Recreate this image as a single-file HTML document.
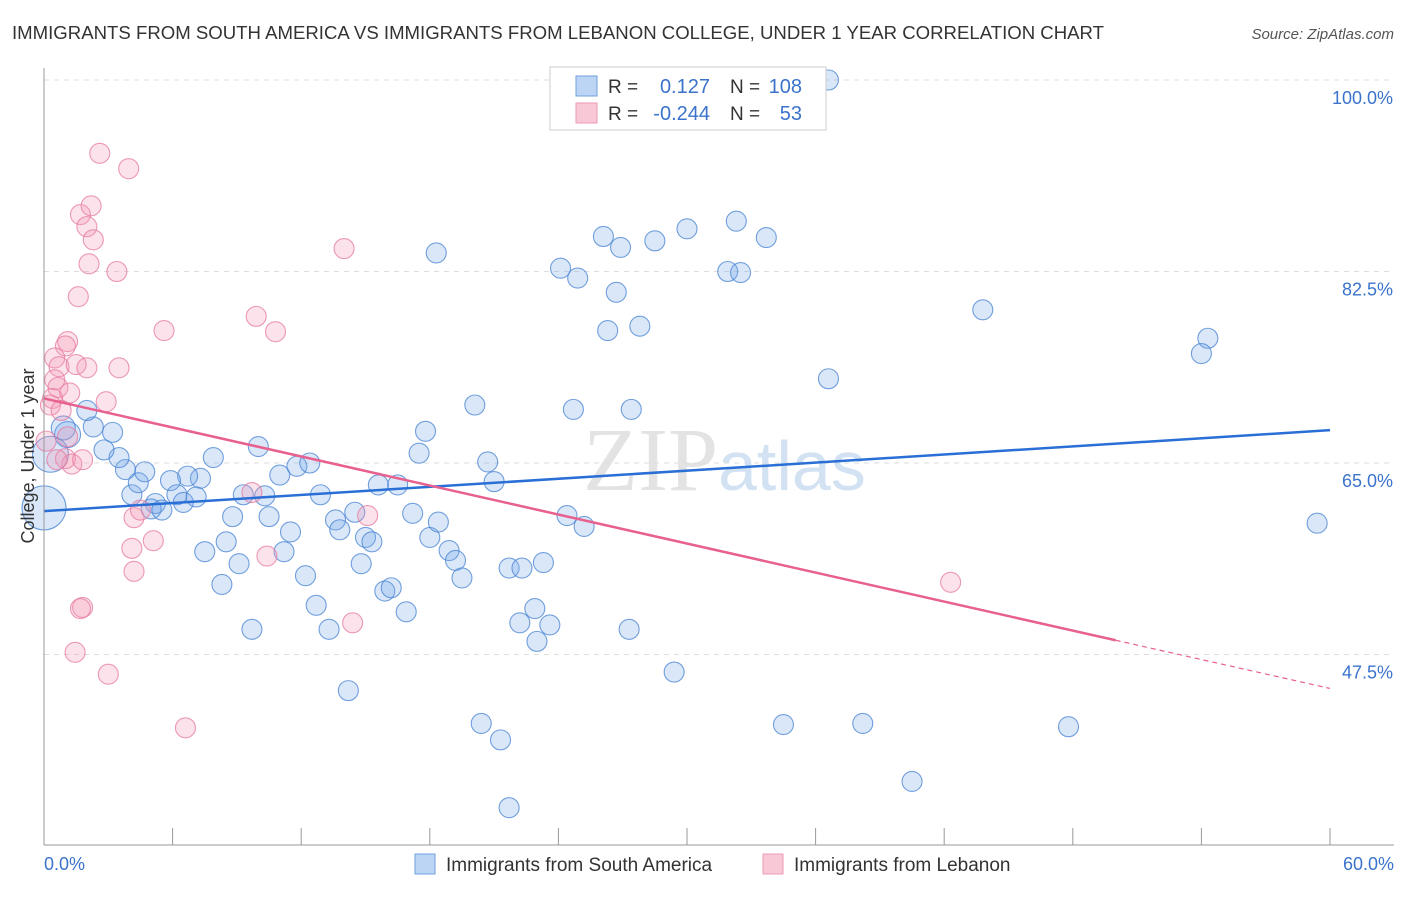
<!DOCTYPE html>
<html><head><meta charset="utf-8"><style>
body{margin:0;background:#fff;font-family:"Liberation Sans",sans-serif}
</style></head><body>
<svg width="1406" height="892" xmlns="http://www.w3.org/2000/svg" style="font-family:'Liberation Sans',sans-serif">
<text x="12" y="39" font-size="18.6" fill="#333">IMMIGRANTS FROM SOUTH AMERICA VS IMMIGRANTS FROM LEBANON COLLEGE, UNDER 1 YEAR CORRELATION CHART</text>
<text x="1394" y="39" font-size="15" fill="#555" text-anchor="end" font-style="italic">Source: ZipAtlas.com</text>
<g id="grid"></g>
<text x="718" y="490" font-size="90" fill="#ddd" text-anchor="end" font-family="Liberation Serif" opacity="0.8">ZIP</text>
<text x="718" y="490" font-size="70" fill="#c8dcf0" opacity="0.8">atlas</text>
<g id="marks"></g>
<g id="lines"></g>
<line x1="44" y1="68" x2="44" y2="845" stroke="#999"/>
<line x1="44" y1="845" x2="1394" y2="845" stroke="#999"/>
<g id="xticks"></g>
<text x="44" y="870" font-size="18" fill="#3b73cc">0.0%</text>
<text x="1394" y="870" font-size="18" fill="#3b73cc" text-anchor="end">60.0%</text>
<text transform="translate(34,456) rotate(-90)" font-size="18" fill="#333" text-anchor="middle">College, Under 1 year</text>
<g>
<rect x="550" y="67" width="276" height="63" fill="#fff" stroke="#ccc"/>
<rect x="576" y="76" width="21" height="20" fill="#bcd5f5" stroke="#6fa0e0"/>
<rect x="576" y="103" width="21" height="20" fill="#f9c8d6" stroke="#ee9ab4"/>
<text x="608" y="93" font-size="19" fill="#333">R =</text>
<text x="710" y="93" font-size="20" fill="#3b73cc" text-anchor="end">0.127</text>
<text x="730" y="93" font-size="19" fill="#333">N =</text>
<text x="802" y="93" font-size="20" fill="#3b73cc" text-anchor="end">108</text>
<text x="608" y="120" font-size="19" fill="#333">R =</text>
<text x="710" y="120" font-size="20" fill="#3b73cc" text-anchor="end">-0.244</text>
<text x="730" y="120" font-size="19" fill="#333">N =</text>
<text x="802" y="120" font-size="20" fill="#3b73cc" text-anchor="end">53</text>
</g>
<g>
<rect x="415" y="854" width="20" height="20" fill="#bcd5f5" stroke="#6fa0e0"/>
<text x="446" y="871" font-size="19" fill="#333">Immigrants from South America</text>
<rect x="763" y="854" width="20" height="20" fill="#f9c8d6" stroke="#ee9ab4"/>
<text x="794" y="871" font-size="19" fill="#333">Immigrants from Lebanon</text>
</g>
</svg>
<script>
const yTicks=[100,82.5,65,47.5];
const yTickLabels=["100.0%","82.5%","65.0%","47.5%"];
const xTickVals=[0,6,12,18,24,30,36,42,48,54,60];
const blueX=[36.6,18.3,24.1,24.9,26.1,26.9,28.5,30.0,32.3,33.7,31.9,32.5,26.7,26.3,27.8,43.8,54.3,54.0,36.6,20.1,24.7,27.4,17.8,17.5,20.7,21.0,15.6,16.5,12.9,11.8,12.4,11.0,10.0,7.9,7.3,6.7,5.9,6.2,6.5,7.1,5.2,5.0,5.5,4.1,4.4,4.7,3.8,3.5,2.8,3.2,2.3,2.0,1.1,0.9,0.3,0,9.3,10.3,8.8,10.5,7.5,8.5,9.1,8.3,11.2,11.5,12.2,12.7,13.3,9.7,13.6,13.8,14.5,15.0,15.3,14.8,15.9,16.2,16.9,17.2,18.0,18.4,18.9,19.2,19.5,14.2,21.7,22.3,23.3,22.9,22.2,23.6,23.0,24.4,25.2,27.3,29.4,20.4,21.3,21.7,34.5,38.2,40.5,47.8,59.4];
const blueY=[100,84.2,82.8,81.9,85.7,84.7,85.3,86.4,87.1,85.6,82.5,82.4,80.6,77.1,77.5,79.0,76.4,75.0,72.7,70.3,69.9,69.9,67.9,65.9,65.1,63.3,63.0,63.0,62.1,64.7,65.0,63.9,66.5,65.5,63.6,63.8,63.4,62.1,61.4,61.9,61.3,60.8,60.7,62.1,63.2,64.2,64.4,65.5,66.2,67.8,68.3,69.8,67.6,68.2,65.8,60.9,62.1,62.0,60.1,60.1,56.9,57.8,55.8,53.9,56.9,58.7,54.7,52.0,49.8,49.8,59.8,58.9,60.5,58.2,57.8,55.8,53.3,53.6,51.4,60.4,58.2,59.6,57.0,56.1,54.5,44.2,55.4,55.4,55.9,51.7,50.4,50.2,48.7,60.2,59.2,49.8,45.9,41.2,39.7,33.5,41.1,41.2,35.9,40.9,59.5];
const blueR=[10,10,10,10,10,10,10,10,10,10,10,10,10,10,10,10,10,10,10,10,10,10,10,10,10,10,10,10,10,10,10,10,10,10,10,10,10,10,10,10,10,10,10,10,10,10,10,10,10,10,10,10,13,12,18,22];
const pinkX=[2.6,3.95,1.7,2.2,2.0,2.3,2.1,3.4,1.6,14.0,9.9,10.8,5.6,1.1,1.0,0.5,0.7,1.5,2.0,3.5,0.5,0.65,1.2,0.4,0.3,0.8,2.9,1.1,1.0,1.3,1.8,0.6,9.7,4.2,4.5,5.1,4.1,4.2,1.8,1.7,15.1,10.4,14.4,1.45,3.0,6.6,42.3,0.1];
const pinkY=[93.3,91.9,87.7,88.5,86.6,85.4,83.2,82.5,80.2,84.6,78.4,77.0,77.1,76.1,75.7,74.6,73.8,74.0,73.7,73.7,72.6,71.9,71.4,70.9,70.3,69.8,70.6,67.4,65.4,64.9,65.3,65.3,62.3,60.0,60.7,57.9,57.2,55.1,51.8,51.7,60.2,56.5,50.4,47.7,45.7,40.8,54.1,67.0];
const blueTrend=[60.6,68.0];
const pinkTrend=[70.9,48.8,44.4];
const NS="http://www.w3.org/2000/svg";
const X0=44,X1=1330,Y100=80,PXPERY=10.943;
function sx(v){return X0+(X1-X0)*v/60;}
function sy(v){return Y100+(100-v)*PXPERY;}
function mk(t,a,p){const e=document.createElementNS(NS,t);for(const k in a)e.setAttribute(k,a[k]);p.appendChild(e);return e;}
const grid=document.getElementById('grid');
yTicks.forEach((t,i)=>{
 const l=mk('line',{x1:44,x2:1394,y1:sy(t),y2:sy(t),stroke:'#ddd','stroke-dasharray':'5,5'},grid);
 
 
 const tx=mk('text',{x:1393,y:sy(t)+24,'font-size':18,fill:'#3b73cc','text-anchor':'end'},grid);
 tx.textContent=yTickLabels[i];
 
 
});
const xt=document.getElementById('xticks');
xTickVals.forEach(v=>{
 const l=mk('line',{x1:sx(v),x2:sx(v),y1:828,y2:845,stroke:'#999'},xt);
 
 
});
const marks=document.getElementById('marks');
blueX.forEach((x,i)=>{
 const c=mk('circle',{cx:sx(x),cy:sy(blueY[i]),r:blueR[i]||10,fill:'rgba(120,170,235,0.28)',stroke:'rgba(70,130,210,0.75)','stroke-width':1.1},marks);
 
 
});
pinkX.forEach((x,i)=>{
 const c=mk('circle',{cx:sx(x),cy:sy(pinkY[i]),r:10,fill:'rgba(245,150,180,0.28)',stroke:'rgba(230,120,160,0.75)','stroke-width':1.1},marks);
 
 
});
const lines=document.getElementById('lines');
const b=mk('line',{x1:sx(0),y1:sy(blueTrend[0]),x2:sx(60),y2:sy(blueTrend[1]),stroke:'#2a6fd6','stroke-width':2.5},lines);


const p=mk('line',{x1:sx(0),y1:sy(pinkTrend[0]),x2:sx(50),y2:sy(pinkTrend[1]),stroke:'#e8608e','stroke-width':2.5},lines);


const pd=mk('line',{x1:sx(50),y1:sy(pinkTrend[1]),x2:sx(60),y2:sy(pinkTrend[2]),stroke:'#e8608e','stroke-width':1.2,'stroke-dasharray':'5,4'},lines);


</script>
</body></html>
